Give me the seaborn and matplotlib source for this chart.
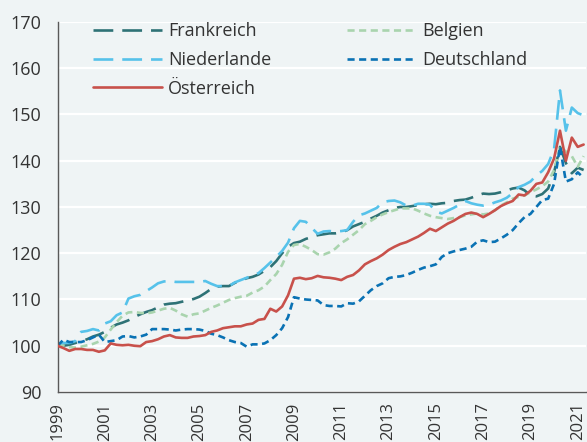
import numpy as np
import pandas as pd
import matplotlib
matplotlib.use("Agg")
import matplotlib.pyplot as plt
import seaborn as sns

# Quarterly index, 1999Q1 = 100
quarters = pd.period_range("1999Q1", "2021Q2", freq="Q")

frankreich = [100.0, 100.0, 100.2, 100.6, 101.0, 101.4, 102.0, 102.4, 103.0, 103.9,
              104.6, 105.0, 105.5, 106.2, 106.8, 107.3, 107.7, 108.3, 108.9, 109.1,
              109.2, 109.5, 109.8, 110.1, 110.6, 111.4, 112.3, 112.8, 112.9, 112.9,
              113.6, 114.1, 114.6, 114.9, 115.4, 116.2, 117.0, 118.3, 120.0, 121.4,
              122.2, 122.5, 123.1, 123.5, 123.9, 124.1, 124.3, 124.3, 124.5, 125.0,
              125.8, 126.3, 126.8, 127.5, 128.1, 128.8, 129.3, 129.8, 130.0, 130.0,
              130.2, 130.4, 130.6, 130.7, 130.6, 130.8, 130.9, 131.3, 131.5, 131.6,
              132.0, 132.5, 132.9, 132.8, 132.9, 133.2, 133.6, 134.0, 134.2, 133.6,
              132.5, 132.3, 132.8, 134.0, 137.5, 143.0, 139.5, 137.3, 138.5, 138.0]

niederlande = [100.0, 100.6, 100.6, 101.0, 103.0, 103.2, 103.6, 103.3, 104.8, 105.3,
               106.6, 107.2, 110.2, 110.7, 111.0, 111.8, 112.6, 113.5, 113.9, 114.0,
               113.8, 113.8, 113.8, 113.8, 113.8, 114.0, 113.4, 112.9, 112.9, 112.9,
               113.7, 114.2, 114.7, 115.2, 115.7, 116.8, 118.0, 119.2, 120.5, 122.3,
               125.4, 127.0, 126.8, 125.5, 124.2, 124.7, 124.8, 124.7, 124.8, 125.0,
               126.8, 128.2, 128.6, 129.2, 129.8, 131.0, 131.3, 131.4, 131.0, 130.3,
               130.3, 130.7, 130.7, 130.5, 129.0, 128.6, 129.2, 129.8, 130.5, 131.3,
               130.8, 130.5, 130.3, 130.5, 131.0, 131.4, 132.0, 133.0, 134.3, 134.8,
               135.5, 136.8, 137.8, 139.3, 142.5, 155.2, 146.5, 151.5, 150.3, 149.8]

oesterreich = [100.0, 99.5, 98.9, 99.3, 99.3, 99.1, 99.1, 98.7, 99.0, 100.5,
               100.2, 100.1, 100.2, 100.0, 99.9, 100.8, 101.0, 101.4, 102.0, 102.3,
               101.8, 101.7, 101.7, 102.0, 102.1, 102.3, 103.0, 103.3, 103.8, 104.0,
               104.2, 104.2, 104.6, 104.8, 105.6, 105.8, 108.0, 107.4, 108.5, 110.9,
               114.5, 114.7, 114.4, 114.6, 115.1, 114.8, 114.7, 114.5, 114.2, 114.9,
               115.3, 116.3, 117.6, 118.3, 118.9, 119.7, 120.7, 121.4, 122.0, 122.4,
               123.0, 123.6, 124.4, 125.3, 124.8, 125.6, 126.4, 127.0, 127.8, 128.5,
               128.8, 128.5, 127.8, 128.5, 129.3, 130.2, 130.8, 131.3, 132.7, 132.5,
               133.5, 135.0, 135.3, 137.5, 140.5, 146.5, 140.0, 145.0, 143.0, 143.5]

belgien = [100.0, 100.0, 99.7, 99.6, 99.8, 100.1, 100.4, 100.9, 101.8, 103.5,
           105.1, 106.5, 107.2, 107.3, 107.1, 107.0, 107.2, 107.6, 108.0, 108.2,
           107.6, 106.8, 106.3, 106.8, 107.0, 107.6, 108.2, 108.7, 109.3, 109.9,
           110.3, 110.6, 110.8, 111.5, 112.0, 112.8, 114.2, 115.5, 117.5, 120.3,
           121.8, 122.0, 121.4, 120.7, 119.8, 119.7, 120.2, 121.0, 122.2, 123.0,
           124.0, 125.0, 126.3, 127.0, 127.8, 128.4, 128.9, 129.3, 129.7, 129.7,
           129.7, 129.2, 128.6, 128.1, 127.8, 127.6, 127.4, 127.6, 127.8, 128.2,
           128.4, 128.6, 128.4, 128.6, 129.3, 130.3, 131.0, 131.8, 132.2, 132.5,
           133.2, 133.8, 134.5, 135.5, 138.0, 143.0, 142.0, 141.0, 138.7, 141.0]

deutschland = [100.0, 101.3, 100.8, 100.8, 100.8, 101.2, 101.8, 102.4, 100.8, 101.0,
               101.2, 102.0, 102.1, 101.8, 102.0, 102.4, 103.6, 103.6, 103.6, 103.5,
               103.3, 103.5, 103.6, 103.6, 103.5, 103.2, 102.6, 102.3, 101.8, 101.2,
               100.8, 100.6, 99.8, 100.3, 100.3, 100.5, 101.2, 102.3, 103.8, 106.2,
               110.5, 110.2, 110.0, 109.9, 109.8, 108.8, 108.6, 108.6, 108.5, 109.2,
               109.1, 109.6, 110.8, 112.0, 112.9, 113.5, 114.6, 114.9, 115.0, 115.3,
               115.8, 116.4, 116.9, 117.2, 117.6, 119.2, 120.0, 120.4, 120.7, 121.0,
               121.4, 122.5, 122.8, 122.4, 122.5, 123.2, 124.0, 125.0, 126.5, 127.8,
               128.5, 130.0, 131.5, 131.8, 135.0, 143.0, 135.5, 136.0, 137.5, 136.3]

countries = ["Frankreich", "Niederlande", "Österreich", "Belgien", "Deutschland"]
series = [frankreich, niederlande, oesterreich, belgien, deutschland]
year_ticks = list(range(1999, 2022, 2))
y_ticks = list(range(90, 171, 10))

t = quarters.year + (quarters.quarter - 1) / 4.0
df = pd.concat(
    [pd.DataFrame({"Zeit": t, "Index": v, "Land": c}) for c, v in zip(countries, series)],
    ignore_index=True,
)

sns.set_style("white")
plt.rcParams["font.family"] = ["Open Sans", "DejaVu Sans"]

bg = "#EFF4F5"
axis_col = "#595959"
text_col = "#333333"

fig = plt.figure(figsize=(5.87, 4.42), dpi=100, facecolor=bg)
ax = fig.add_axes([57.5 / 587, 50 / 442, (586 - 57.5) / 587, 370 / 442])
ax.set_facecolor(bg)

palette = {
    "Frankreich": "#2E7276",
    "Niederlande": "#56C2EA",
    "Österreich": "#C8514B",
    "Belgien": "#A9D4AE",
    "Deutschland": "#0A72B4",
}
dashes = {
    "Frankreich": (7.5, 3.4),
    "Niederlande": (7.5, 3.4),
    "Österreich": "",
    "Belgien": (2.7, 1.7),
    "Deutschland": (2.7, 1.7),
}

sns.lineplot(data=df, x="Zeit", y="Index", hue="Land", style="Land",
             hue_order=countries, style_order=countries, palette=palette,
             dashes=dashes, linewidth=1.9, ax=ax)

for ln in ax.lines:
    if ln.get_label() == "Österreich" or ln.get_color() == palette["Österreich"]:
        ln.set_zorder(5)

ax.set_xlim(1999, 2021.35)
ax.set_ylim(90, 170)
ax.set_xticks(year_ticks)
ax.set_xticklabels([str(y) for y in year_ticks])
ax.set_xticks([2021.35], minor=True)
ax.set_yticks(y_ticks)
ax.set_xlabel("")
ax.set_ylabel("")

ax.yaxis.grid(True, color="white", linewidth=1.6)
ax.xaxis.grid(False)
ax.set_axisbelow(True)

for s in ["top", "right"]:
    ax.spines[s].set_visible(False)
for s in ["left", "bottom"]:
    ax.spines[s].set_color(axis_col)
    ax.spines[s].set_linewidth(1.0)

ax.tick_params(axis="both", which="both", direction="out", length=4.5, width=1.0,
               color=axis_col, labelcolor=text_col, labelsize=13)
ax.tick_params(axis="y", pad=7)
ax.tick_params(axis="x", pad=3, labelrotation=90, labelsize=12)

sns.move_legend(ax, "upper left", bbox_to_anchor=(0.067, 1.0), ncol=2,
                frameon=False, title=None, fontsize=13, handlelength=3.8,
                handletextpad=0.35, columnspacing=4.2, labelspacing=0.6,
                borderpad=0, borderaxespad=0)
for txt in ax.get_legend().get_texts():
    txt.set_color(text_col)

fig.savefig("out.png", dpi=100, facecolor=bg)
